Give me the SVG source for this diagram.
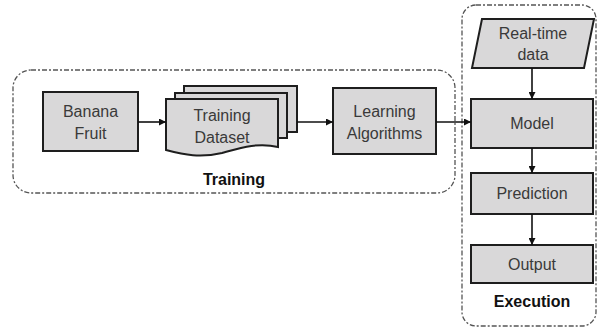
<svg xmlns="http://www.w3.org/2000/svg" width="598" height="329" viewBox="0 0 598 329">
<defs>
<style>
.box{fill:#d9d8d9;stroke:#1e1e1e;stroke-width:2}
.grp{fill:none;stroke:#555;stroke-width:1.3;stroke-dasharray:5,2,2,2}
.t{font-family:"Liberation Sans",Arial,sans-serif;font-size:16px;fill:#3a3a3a;text-anchor:middle}
.b{font-family:"Liberation Sans",Arial,sans-serif;font-size:16px;font-weight:bold;fill:#111;text-anchor:middle}
.c{stroke:#111;stroke-width:1.6;fill:none;marker-end:url(#ah)}
</style>
<marker id="ah" viewBox="0 0 10 10" refX="10" refY="5" markerWidth="7" markerHeight="7" orient="auto" markerUnits="userSpaceOnUse"><path d="M0,0 L10,5 L0,10 z" fill="#111"/></marker>
</defs>
<rect width="598" height="329" fill="#fff"/>
<g id="training-group">
<rect class="grp" x="13" y="70" width="442" height="123" rx="18"/>
<text class="b" x="234" y="185">Training</text>
</g>
<g id="execution-group">
<rect class="grp" x="462" y="5" width="134" height="321" rx="14"/>
<text class="b" x="532" y="307">Execution</text>
</g>
<g id="banana">
<rect class="box" x="43" y="92" width="95" height="59"/>
<text class="t" x="90.5" y="117">Banana</text>
<text class="t" x="90.5" y="139">Fruit</text>
</g>
<g id="dataset">
<rect class="box" x="184" y="86" width="113" height="46"/>
<rect class="box" x="175" y="93" width="112" height="45"/>
<path class="box" d="M166,99 H278 V147 C258,142 240,148 222,153 C200,158 185,155 166,150 Z"/>
<text class="t" x="222" y="121">Training</text>
<text class="t" x="222" y="143">Dataset</text>
</g>
<g id="learning">
<rect class="box" x="333" y="88" width="103" height="66"/>
<text class="t" x="384.5" y="117">Learning</text>
<text class="t" x="384.5" y="139">Algorithms</text>
</g>
<g id="realtime">
<polygon class="box" points="482,19 594,19 584,68 472,68"/>
<text class="t" x="533" y="39">Real-time</text>
<text class="t" x="533" y="60">data</text>
</g>
<g id="model">
<rect class="box" x="471" y="99" width="122" height="49"/>
<text class="t" x="532" y="129">Model</text>
</g>
<g id="prediction">
<rect class="box" x="471" y="173" width="122" height="41"/>
<text class="t" x="532" y="199">Prediction</text>
</g>
<g id="output">
<rect class="box" x="471" y="245" width="122" height="38"/>
<text class="t" x="532" y="270">Output</text>
</g>
<g id="connectors">
<line class="c" x1="138" y1="122" x2="166" y2="122"/>
<line class="c" x1="297" y1="122" x2="333" y2="122"/>
<line class="c" x1="436" y1="122" x2="471" y2="122"/>
<line class="c" x1="532" y1="68" x2="532" y2="99"/>
<line class="c" x1="532" y1="148" x2="532" y2="173"/>
<line class="c" x1="532" y1="214" x2="532" y2="245"/>
</g>
</svg>
